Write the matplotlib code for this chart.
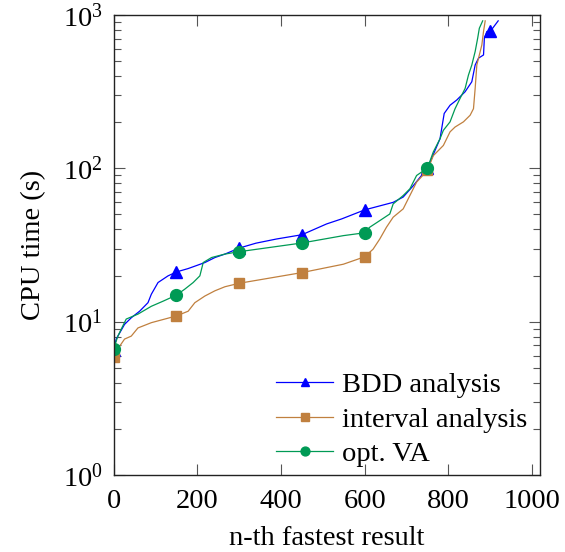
import numpy as np
import matplotlib
matplotlib.use("Agg")
import matplotlib.pyplot as plt
from matplotlib.ticker import LogLocator, FixedLocator, NullFormatter

plt.rcParams['font.family'] = ['Liberation Serif', 'DejaVu Serif']
plt.rcParams['mathtext.fontset'] = 'stix'

# BDD analysis
bdd_x = [0, 6, 26, 42, 62, 82, 90, 106, 130, 150, 178, 218, 242, 266, 300, 340, 389, 450,
         509, 545, 600, 668, 692, 716, 736, 750, 760, 780, 790, 804, 820, 840, 856, 864,
         872, 884, 886, 892, 900, 919]
bdd_y = [6.5, 7.7, 9.6, 10.6, 11.7, 13.3, 15.1, 18.0, 19.9, 21.1, 22.2, 24.3, 26.2, 27.6, 30.2,
         32.5, 34.6, 36.9, 43.4, 46.8, 53.6, 60, 65, 77, 90, 100, 116, 156, 228, 258, 279, 316,
         367, 472, 523, 549, 706, 781, 781, 916]

# interval analysis
int_x = [0, 14, 26, 42, 58, 90, 150, 178, 194, 218, 242, 266, 300, 450, 549, 600, 620, 636,
         652, 668, 692, 708, 724, 750, 764, 788, 804, 816, 836, 852, 860, 864, 868, 874, 880,
         884, 888]
int_y = [5.87, 6.9, 7.7, 8.05, 9.1, 9.85, 10.9, 11.7, 13.3, 14.7, 15.9, 16.9, 17.8, 20.9,
         23.7, 26.5, 29.7, 34.6, 41.3, 48, 54.4, 66.5, 81.3, 97, 121, 141, 173, 186, 201, 222,
         245, 332, 472, 549, 638, 781, 916]

# opt. VA
va_x = [0, 10, 22, 30, 58, 90, 118, 150, 170, 190, 206, 214, 234, 266, 300, 450, 549, 600,
        612, 636, 660, 668, 692, 708, 724, 750, 764, 780, 788, 804, 816, 828, 840, 848, 856,
        864, 870, 874, 882]
va_y = [6.65, 8.05, 9.4, 10.4, 11.2, 12.6, 13.6, 14.9, 16.3, 18.0, 19.9, 24.3, 26.2, 27.6,
        28.6, 32.6, 36.4, 38.0, 41.3, 45.6, 50.4, 58.6, 66.5, 73.5, 89.8, 100.5, 128, 156, 177,
        201, 245, 286, 332, 406, 472, 578, 706, 820, 916]

mark_at = [0, 150, 300, 450, 600, 750, 900]

fig = plt.figure(figsize=(5.65, 5.52), dpi=100)
ax = fig.add_axes([0.2012, 0.1395, 0.7553, 0.8333])


def marks(xs):
    return [i for i, v in enumerate(xs) if v in mark_at]


ax.plot(bdd_x, bdd_y, color='#0000FF', lw=0.9, marker='^', ms=8.5,
        markevery=marks(bdd_x), label='BDD analysis')
ax.plot(int_x, int_y, color='#C0803F', lw=0.9, marker='s', ms=7.5,
        markevery=marks(int_x), label='interval analysis')
ax.plot(va_x, va_y, color='#009A55', lw=0.9, marker='o', ms=8.5,
        markevery=marks(va_x), label='opt. VA')

ax.set_yscale('log')
ax.set_ylim(1, 1000)
ax.set_xlim(0, 1020)
ax.xaxis.set_major_locator(FixedLocator([0, 200, 400, 600, 800, 1000]))
ax.yaxis.set_major_locator(LogLocator(base=10, numticks=10))
ax.yaxis.set_minor_locator(LogLocator(base=10, subs=np.arange(2, 10), numticks=10))
ax.yaxis.set_minor_formatter(NullFormatter())

ax.tick_params(which='both', direction='in', top=True, right=True, labelsize=20.5,
               color='#555555')
ax.tick_params(which='major', length=8, width=0.8)
ax.tick_params(which='minor', length=5, width=0.8)
ax.tick_params(axis='x', which='major', pad=10)
ax.tick_params(axis='y', which='major', pad=8)
for s in ax.spines.values():
    s.set_linewidth(1.0)
    s.set_color('#222222')

ax.set_xlabel('n-th fastest result', fontsize=20.5, labelpad=9)
ax.set_ylabel('CPU time (s)', fontsize=20.5, labelpad=12)

ax.legend(loc='lower right', frameon=False, fontsize=20.5, handlelength=2.0,
          handletextpad=0.3, labelspacing=0.3, markerscale=0.75,
          borderaxespad=0.0, bbox_to_anchor=(0.995, -0.008))

fig.savefig('out.png', dpi=100)
